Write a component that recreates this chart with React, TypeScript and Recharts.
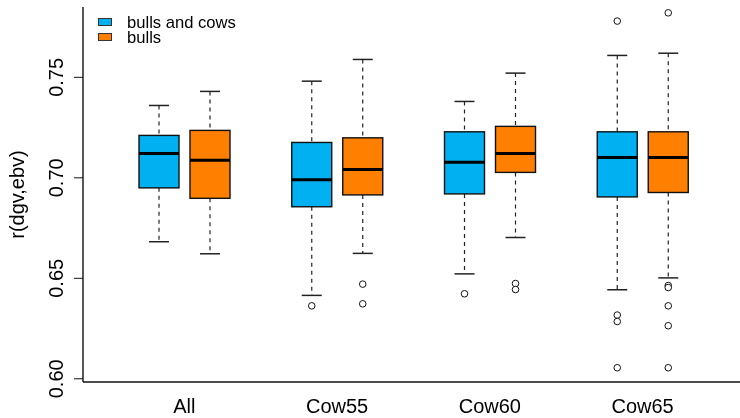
import { Bar, ComposedChart, Legend, XAxis, YAxis } from "recharts";

const categories = ["All", "Cow55", "Cow60", "Cow65"];
const seriesNames = ["bulls and cows", "bulls"];

// [lower whisker, Q1, median, Q3, upper whisker]
const bullsAndCowsBox = [
  [0.6682, 0.695, 0.7121, 0.7211, 0.736],
  [0.6415, 0.6856, 0.699, 0.7176, 0.7481],
  [0.6522, 0.692, 0.7077, 0.7229, 0.738],
  [0.6443, 0.6905, 0.7101, 0.7229, 0.7609]
];
const bullsBox = [
  [0.6622, 0.6898, 0.7087, 0.7236, 0.743],
  [0.6624, 0.6915, 0.7042, 0.7199, 0.7589],
  [0.6703, 0.7027, 0.7121, 0.7256, 0.7521],
  [0.6502, 0.6927, 0.7101, 0.7229, 0.762]
];
const bullsAndCowsOutliers = [[], [0.6363], [0.6423], [0.778, 0.6317, 0.6285, 0.6055]];
const bullsOutliers = [
  [],
  [0.6471, 0.6373],
  [0.6474, 0.6444],
  [0.7821, 0.6464, 0.6454, 0.6363, 0.6264, 0.6055]
];
const yTicks = [0.6, 0.65, 0.7, 0.75];

const data = categories.map((name, i) => ({
  name,
  bc: bullsAndCowsBox[i],
  bcOut: bullsAndCowsOutliers[i],
  b: bullsBox[i],
  bOut: bullsOutliers[i]
}));

const FONT = "'Liberation Sans', Arial, sans-serif";

const BoxShape = (props: any) => {
  const { x, y, width, height, payload, fill, statKey, outKey } = props;
  const s: number[] = payload[statKey];
  const outs: number[] = payload[outKey];
  const [lo, q1, med, q3, hi] = s;
  // linear map using the bar's own pixel span from the y scale
  const py = (v: number) => y + ((hi - v) / (hi - lo)) * height;
  const cx = x + width / 2;
  const cap = width / 4;
  return (
    <g>
      <line x1={cx} x2={cx} y1={py(hi)} y2={py(q3)} stroke="#222" strokeWidth={1.2} strokeDasharray="4 4" />
      <line x1={cx} x2={cx} y1={py(q1)} y2={py(lo)} stroke="#222" strokeWidth={1.2} strokeDasharray="4 4" />
      <line x1={cx - cap} x2={cx + cap} y1={py(hi)} y2={py(hi)} stroke="#222" strokeWidth={1.5} />
      <line x1={cx - cap} x2={cx + cap} y1={py(lo)} y2={py(lo)} stroke="#222" strokeWidth={1.5} />
      <rect x={x} y={py(q3)} width={width} height={py(q1) - py(q3)} fill={fill} stroke="#111" strokeWidth={1.4} />
      <line x1={x} x2={x + width} y1={py(med)} y2={py(med)} stroke="#000" strokeWidth={3} />
      {outs.map((v, i) => (
        <circle key={i} cx={cx} cy={py(v)} r={3.3} fill="#fff" stroke="#111" strokeWidth={1} />
      ))}
    </g>
  );
};

const YTick = ({ x, y, payload }: any) => (
  <text
    x={x - 9}
    y={y}
    transform={`rotate(-90, ${x - 9}, ${y})`}
    textAnchor="middle"
    fontSize={20}
    fontFamily={FONT}
    fill="#000"
  >
    {Number(payload.value).toFixed(2)}
  </text>
);

const XTick = ({ x, y, payload }: any) => (
  <text x={x} y={y + 31} textAnchor="middle" fontSize={20} fontFamily={FONT} fill="#000">
    {payload.value}
  </text>
);

const LegendBox = ({ payload }: any) => {
  const items = seriesNames
    .map((n) => (payload || []).find((e: any) => e.value === n))
    .filter(Boolean);
  return (
    <div style={{ fontFamily: FONT, fontSize: 16.6, lineHeight: "15px" }}>
      {items.map((entry: any) => (
        <div key={entry.value} style={{ display: "flex", alignItems: "center", height: 15 }}>
          <span
            style={{
              width: 12,
              height: 6,
              background: entry.color,
              border: "1px solid #333",
              marginRight: 15
            }}
          />
          <span style={{ color: "#000" }}>{entry.value}</span>
        </div>
      ))}
    </div>
  );
};

export default function App() {
  return (
    <div style={{ position: "fixed", left: 0, top: 0, width: 740, height: 418, overflow: "hidden" }}>
      <ComposedChart
        width={760}
        height={418}
        data={data}
        margin={{ top: 7, right: 16, left: 0, bottom: 0 }}
        barSize={40}
        barGap={11}
      >
        <XAxis
          dataKey="name"
          height={36}
          padding={{ left: 25, right: 25 }}
          tickLine={false}
          tickSize={0}
          tickMargin={0}
          tick={<XTick />}
          axisLine={{ stroke: "#111", strokeWidth: 1.4 }}
        />
        <XAxis
          xAxisId="top"
          dataKey="name"
          orientation="top"
          height={0}
          tick={false}
          tickLine={false}
          axisLine={{ stroke: "#111", strokeWidth: 1.4 }}
        />
        <YAxis
          width={83}
          domain={[0.5984, 0.785]}
          ticks={yTicks}
          allowDataOverflow
          tickSize={9}
          tickMargin={2}
          tick={<YTick />}
          tickLine={{ stroke: "#111" }}
          axisLine={{ stroke: "#111", strokeWidth: 1.4 }}
          label={{
            content: ({ viewBox }: any) => {
              const cy = viewBox.y + viewBox.height / 2;
              return (
                <text
                  x={24}
                  y={cy}
                  transform={`rotate(-90, 24, ${cy})`}
                  textAnchor="middle"
                  fontSize={20}
                  fontFamily={FONT}
                  fill="#000"
                >
                  r(dgv,ebv)
                </text>
              );
            }
          }}
        />
        <Legend
          layout="horizontal"
          verticalAlign="middle"
          align="center"
          content={<LegendBox />}
          wrapperStyle={{ left: 98, top: 14.5, width: "auto" }}
        />
        <Bar
          name={seriesNames[0]}
          dataKey={(d: any) => [d.bc[0], d.bc[4]]}
          fill="#00b0f0"
          isAnimationActive={false}
          shape={(p: any) => <BoxShape {...p} statKey="bc" outKey="bcOut" />}
        />
        <Bar
          name={seriesNames[1]}
          dataKey={(d: any) => [d.b[0], d.b[4]]}
          fill="#ff8000"
          isAnimationActive={false}
          shape={(p: any) => <BoxShape {...p} statKey="b" outKey="bOut" />}
        />
      </ComposedChart>
    </div>
  );
}
